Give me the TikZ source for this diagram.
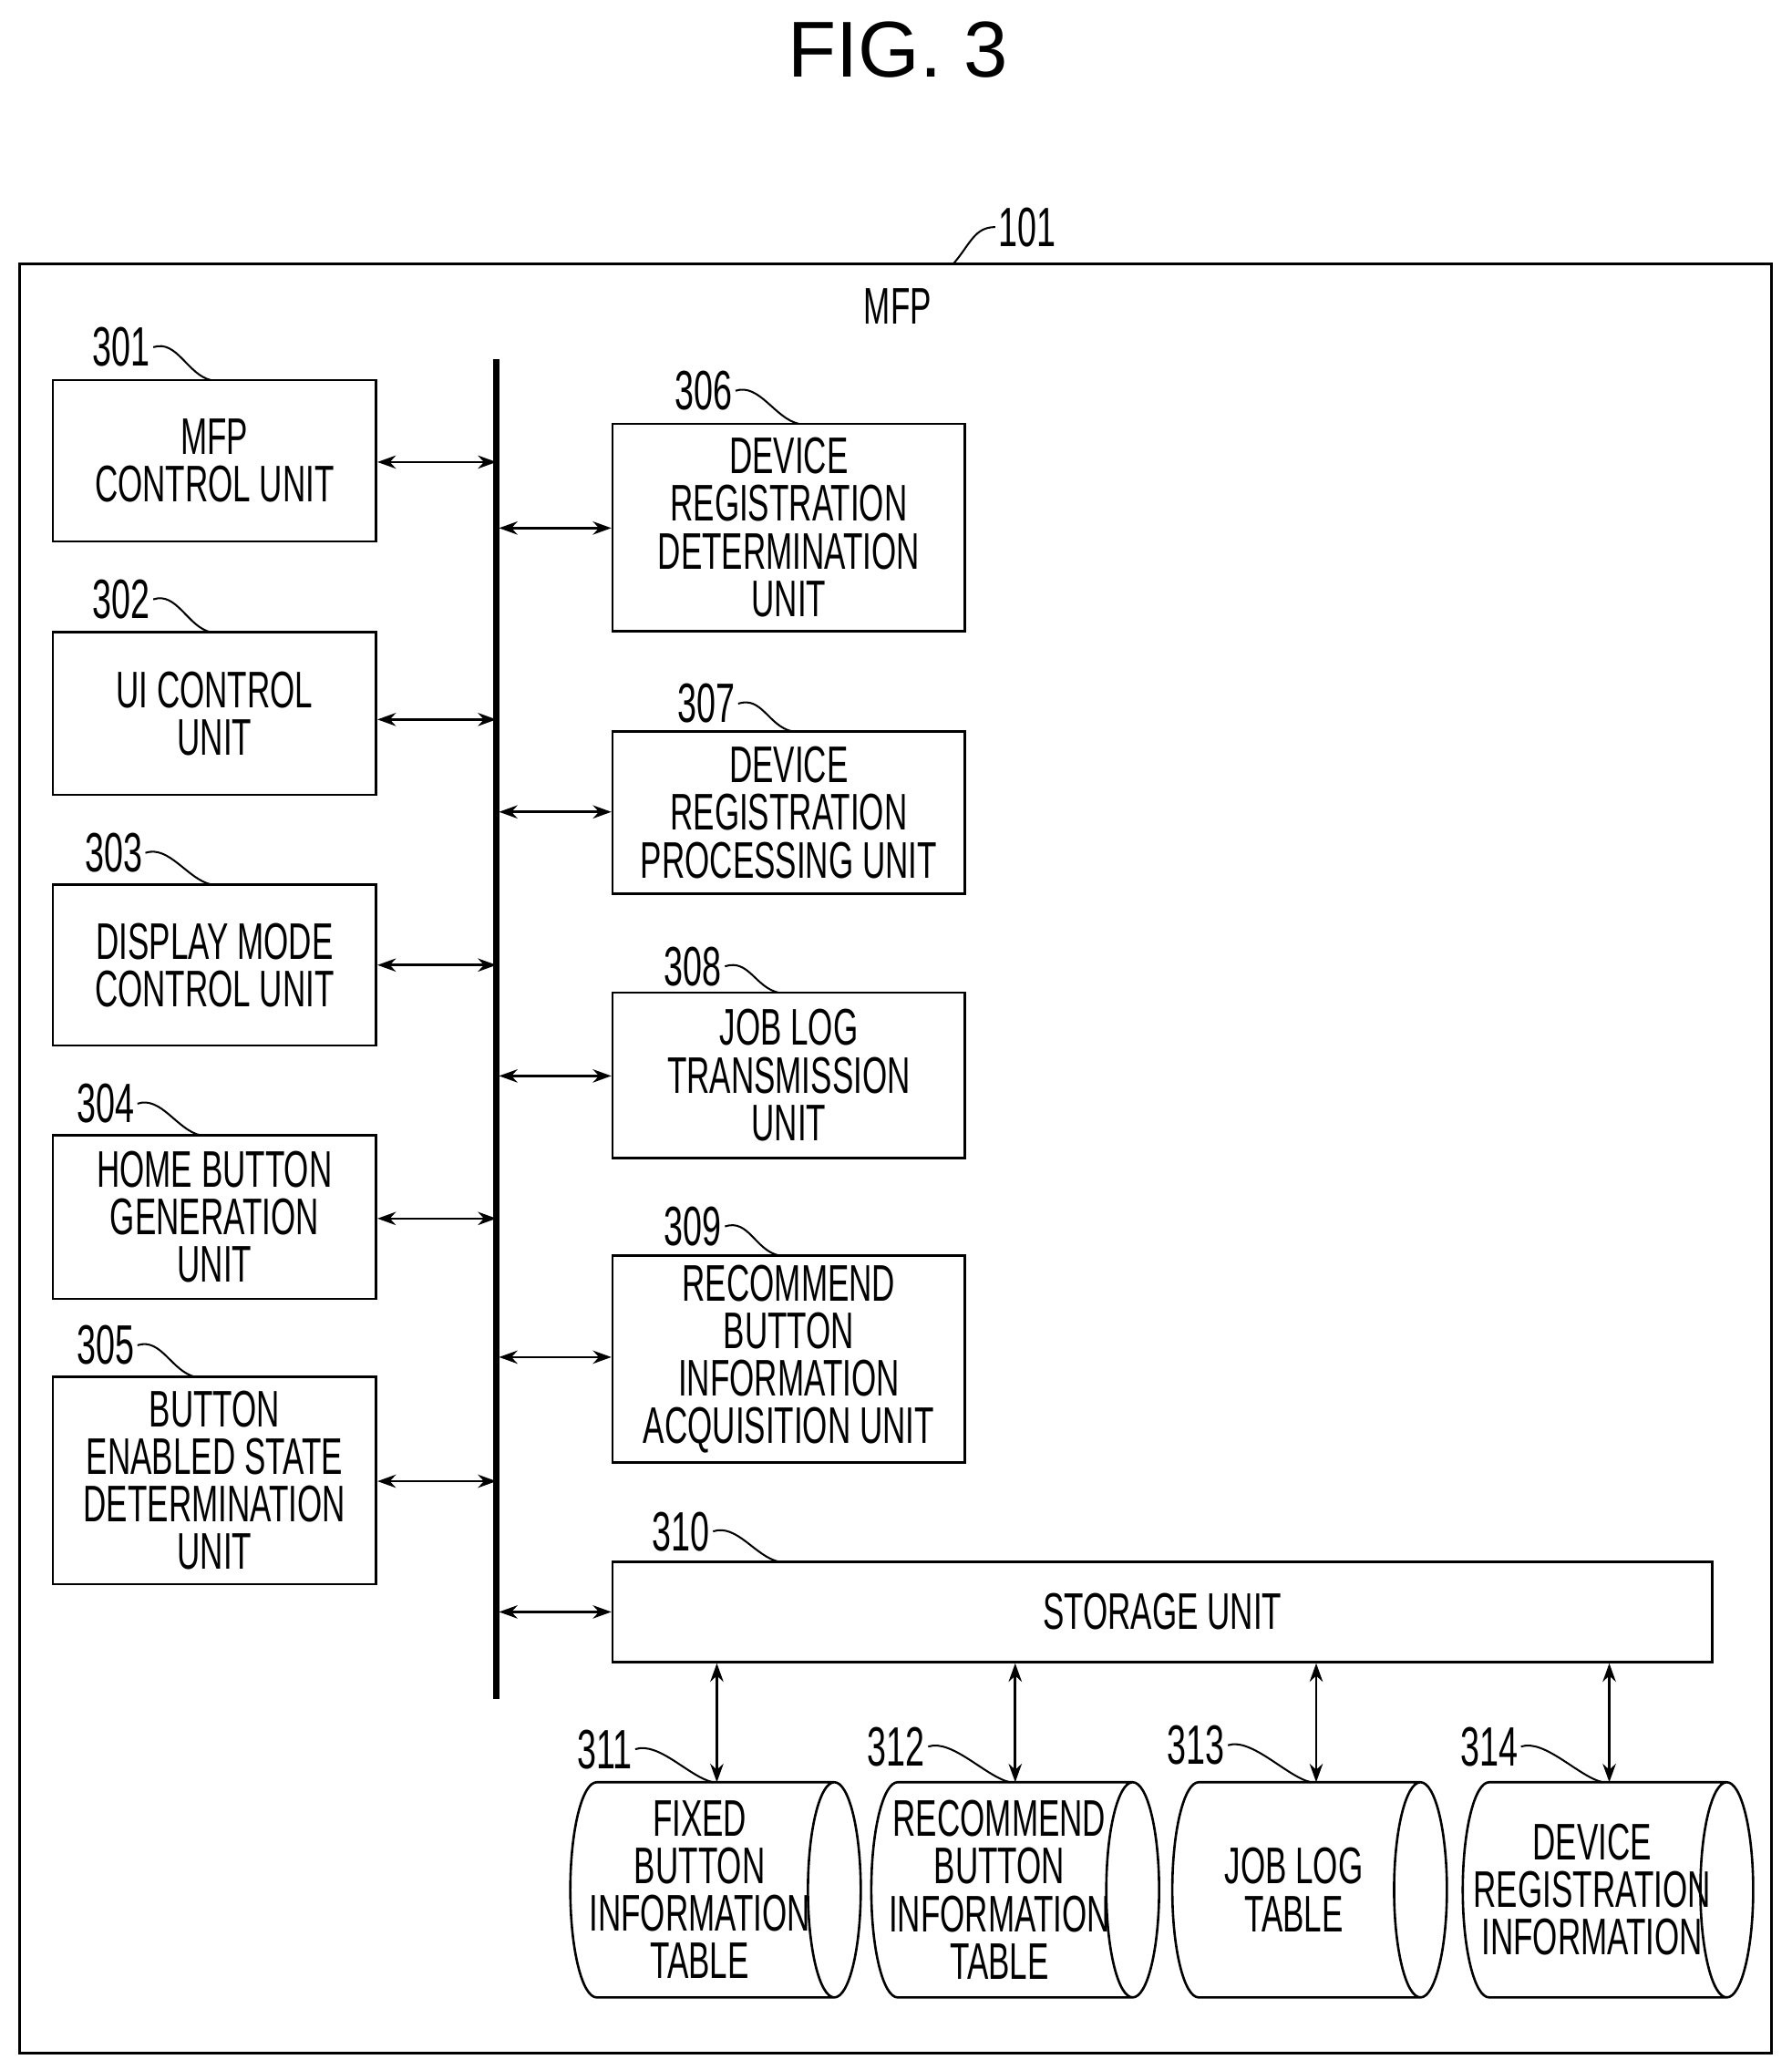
\documentclass[tikz,border=0pt]{standalone}
\usepackage{fontspec}
\setmainfont{Liberation Sans}
\newfontfamily\narrowf[FakeStretch=0.62]{Liberation Sans}
\usetikzlibrary{arrows.meta}
\begin{document}
\begin{tikzpicture}[x=0.5pt,y=-0.5pt,
  box/.style={draw,line width=0.9pt,align=center,font=\narrowf\fontsize{19.5}{18}\selectfont,inner sep=0pt},
  num/.style={font=\narrowf\fontsize{21}{21}\selectfont,inner sep=1pt},
  ar/.style={line width=0.9pt,{Stealth[length=7pt,width=5pt]}-{Stealth[length=7pt,width=5pt]}},
  ld/.style={line width=0.7pt},
  cyl/.style={line width=0.9pt}]
\useasboundingbox (0,0) rectangle (1357,1568);
\node[font=\fontsize{30}{30}\selectfont] (title) at (680,38) {FIG. 3};
\draw[line width=0.9pt] (15,200) rectangle (1342,1555);
\coordinate (outer) at (722,200);
\node[num] (n101) at (778,172) {101};
\draw[ld] (outer) .. controls (735,185) and (738,172) .. (n101.west);
\node[box,draw=none] (mfp) at (680,232) {MFP};
\coordinate (bt) at (376,272); \coordinate (bb) at (376,1287);
\draw[line width=2.2pt] (bt) -- (bb);
% left boxes
\foreach \n/\y/\h/\t in {301/349/61/{MFP\\CONTROL UNIT},302/540.5/61.5/{UI CONTROL\\UNIT},303/731/61/{DISPLAY MODE\\CONTROL UNIT},304/922/62/{HOME BUTTON\\GENERATION\\UNIT},305/1121.5/78.5/{BUTTON\\ENABLED STATE\\DETERMINATION\\UNIT}}{
  \node[box,minimum width=122.5pt,minimum height=\h pt] (b\n) at (162.5,\y) {\t};
}
\foreach \n/\y/\h/\t in {306/399.5/78.5/{DEVICE\\REGISTRATION\\DETERMINATION\\UNIT},307/615.5/61.5/{DEVICE\\REGISTRATION\\PROCESSING UNIT},308/814.5/62.5/{JOB LOG\\TRANSMISSION\\UNIT},309/1029.5/78.5/{RECOMMEND\\BUTTON\\INFORMATION\\ACQUISITION UNIT}}{
  \node[box,minimum width=133.5pt,minimum height=\h pt] (b\n) at (597.5,\y) {\t};
}
\node[box,minimum width=416.5pt,minimum height=38pt] (b310) at (880.5,1221) {STORAGE UNIT};
% bus arrows
\foreach \n/\y in {301/350,302/545,303/731,304/923,305/1122}{
  \draw[ar] (b\n.east |- 0,\y) -- (376,\y);}
\foreach \n/\y in {306/400,307/615,308/815,309/1028,310/1221}{
  \draw[ar] (378,\y) -- (b\n.west |- 0,\y);}
% cylinders
\foreach \n/\xa/\xb/\t in {311/432/652/{FIXED\\BUTTON\\INFORMATION\\TABLE},312/660/878/{RECOMMEND\\BUTTON\\INFORMATION\\TABLE},313/888/1096/{JOB LOG\\TABLE},314/1108/1328/{DEVICE\\REGISTRATION\\INFORMATION}}{
  \coordinate (b\n) at ({(\xa+\xb)/2},1350);
  \draw[cyl] (\xa+20,1350) -- (\xb-20,1350) (\xa+20,1513) -- (\xb-20,1513)
    (\xa+20,1350) arc[start angle=90,end angle=270,x radius=10pt,y radius=40.75pt]
    (\xb-20,1431.5) ellipse[x radius=10pt,y radius=40.75pt];
  \node[box,draw=none] (t\n) at ({(\xa+\xb)/2-12},1431.5) {\t};
}
\foreach \n/\x in {311/543,312/769,313/997,314/1219}{
  \draw[ar] (b310.south -| \x,0) -- (b\n -| \x,0);}
% labels
\foreach \n/\x/\y/\tx/\ty in {301/92/263/160/288,302/92/454/160/479,303/86/646/160/670,304/80/836/152/860,305/80/1019/148/1043,306/533/296/605/321,307/535/533/600/554,308/525/732/590/752,309/525/929/590/951,310/516/1160/590/1183,311/458/1325/540/1350,312/679/1323/765/1350,313/906/1322/993/1350,314/1128/1323/1214/1350}{
  \node[num] (n\n) at (\x,\y) {\n};
  \coordinate (c\n) at (\tx,\ty);
  \draw[ld] (n\n.east) .. controls +(18,-6) and +(-18,-4) .. (c\n);
}
\end{tikzpicture}
\end{document}
